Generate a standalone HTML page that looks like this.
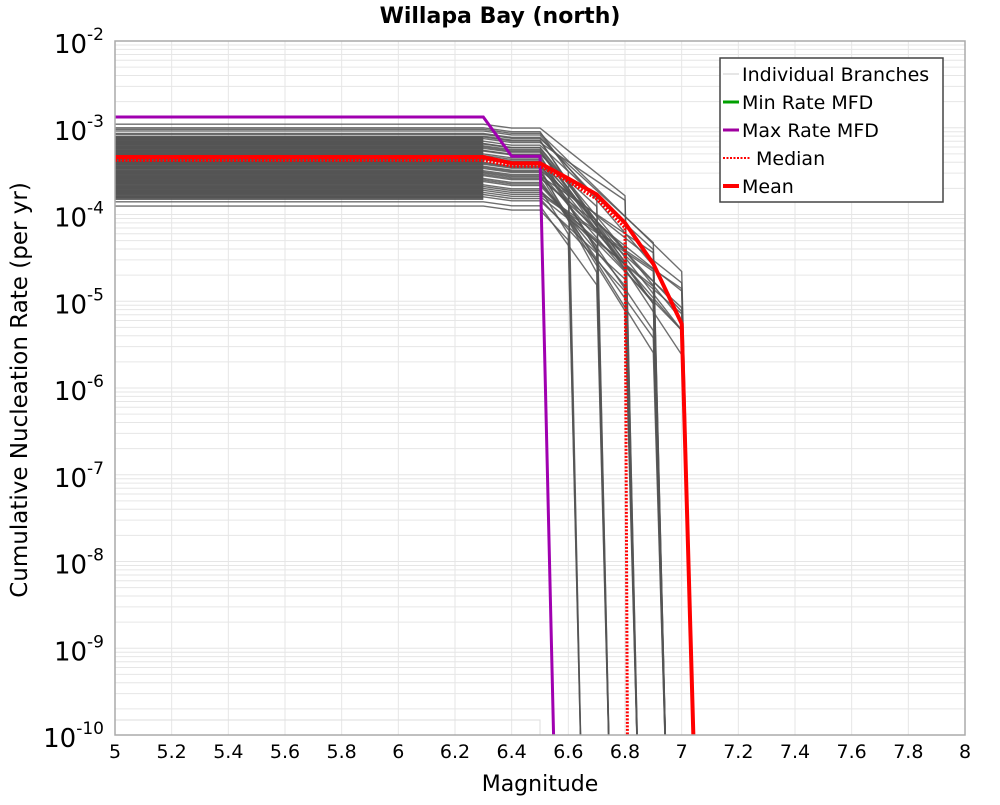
<!DOCTYPE html>
<html><head><meta charset="utf-8"><style>
body{margin:0;background:#fff;font-family:"Liberation Sans","DejaVu Sans",sans-serif;}
svg text{font-family:"DejaVu Sans","Liberation Sans",sans-serif;}
</style></head><body>
<svg id="chart" width="1000" height="800" xmlns="http://www.w3.org/2000/svg">
<defs><clipPath id="plotclip"><rect x="115" y="41" width="850" height="694"/></clipPath></defs>
<text x="500" y="23" text-anchor="middle" font-size="22" font-weight="bold">Willapa Bay (north)</text>
<g id="grid"></g>
<g id="series" clip-path="url(#plotclip)"></g>
<rect x="115" y="41" width="850" height="694" fill="none" stroke="#aaa" stroke-width="1.5"/>
<g id="axes"></g>
<text x="540" y="791" text-anchor="middle" font-size="22">Magnitude</text>
<text transform="translate(27,390) rotate(-90)" text-anchor="middle" font-size="23">Cumulative Nucleation Rate (per yr)</text>
<g>
<rect x="720" y="58" width="223" height="144" fill="#fff" stroke="#444" stroke-width="1.5"/>
<line x1="723" y1="74" x2="739" y2="74" stroke="#ccc" stroke-width="1"/>
<text x="742" y="81" font-size="19">Individual Branches</text>
<line x1="723" y1="102" x2="739" y2="102" stroke="#00a000" stroke-width="3"/>
<text x="742" y="109" font-size="19">Min Rate MFD</text>
<line x1="723" y1="130" x2="739" y2="130" stroke="#a000a0" stroke-width="3"/>
<text x="742" y="137" font-size="19">Max Rate MFD</text>
<line x1="723" y1="158" x2="751" y2="158" stroke="red" stroke-width="2" stroke-dasharray="2,1.5"/>
<text x="756" y="165" font-size="19">Median</text>
<line x1="723" y1="186" x2="739" y2="186" stroke="red" stroke-width="4"/>
<text x="742" y="193" font-size="19">Mean</text>
</g>
</svg>
<script>
const xTicks=[5,5.2,5.4,5.6,5.8,6,6.2,6.4,6.6,6.8,7,7.2,7.4,7.6,7.8,8];
const yDecades=[-2,-3,-4,-5,-6,-7,-8,-9,-10];
const mags=[5.0,6.3,6.4,6.5,6.6,6.7,6.8,6.9,7.0];
const meanRates=[4.6e-4,4.6e-4,3.9e-4,3.9e-4,2.6e-4,1.7e-4,8e-5,2.7e-5,5.5e-6];
const meanMmax=7.05;
const medianRates=[4.2e-4,4.2e-4,3.6e-4,3.6e-4,2.4e-4,1.5e-4,7e-5];
const medianMmax=6.81;
const maxRates=[1.33e-3,1.33e-3,4.7e-4,4.7e-4];
const maxMmax=6.555;
// individual branches: base rate, last magnitude before cutoff, decay per 0.1 M
const branchBase=[1.25e-4,1.4e-4,1.6e-4,1.8e-4,2.0e-4,2.2e-4,2.4e-4,2.6e-4,2.8e-4,3.0e-4,3.2e-4,3.4e-4,3.6e-4,3.8e-4,4.0e-4,4.3e-4,4.6e-4,5.0e-4,5.4e-4,5.8e-4,6.2e-4,6.6e-4,7.0e-4,7.5e-4,8.0e-4,8.6e-4,9.2e-4,1.0e-3,1.1e-3,2.5e-4,3.5e-4,4.5e-4,5.5e-4,6.5e-4,3.1e-4,2.1e-4,1.7e-4,7.8e-4,4.8e-4,2.9e-4,8.4e-4,6.0e-4,3.9e-4,1.9e-4,9.6e-4];
const branchMmax=[6.6,6.7,6.8,6.9,7.0,6.6,6.7,6.8,6.9,7.0,6.8,6.9,7.0,6.7,6.8,6.9,7.0,6.6,6.7,6.8,6.9,7.0,6.9,6.8,7.0,6.7,6.9,6.6,6.8,7.0,6.9,6.8,6.7,7.0,6.9,7.0,6.8,6.9,6.7,7.0,6.9,6.8,7.0,6.9,7.0];
const branchDecay=[0.45,0.35,0.5,0.55,0.6,0.3,0.45,0.4,0.35,0.5,0.3,0.42,0.55,0.25,0.48,0.33,0.45,0.4,0.28,0.38,0.36,0.4,0.5,0.6,0.32,0.45,0.42,0.35,0.55,0.46,0.3,0.4,0.5,0.38,0.6,0.52,0.44,0.34,0.3,0.55,0.5,0.35,0.42,0.6,0.48];

const X=m=>115+(m-5)/3*850;
const Y=r=>41+(-2-Math.log10(r))*694/8;
const NS='http://www.w3.org/2000/svg';
function mk(tag,attrs,parent){const e=document.createElementNS(NS,tag);for(const k in attrs)e.setAttribute(k,attrs[k]);parent.appendChild(e);return e;}
const grid=document.getElementById('grid'),axes=document.getElementById('axes'),series=document.getElementById('series');
for(const d of yDecades){for(let k=1;k<10;k++){const v=k*Math.pow(10,d);if(v>1e-2+1e-9)continue;const l=mk('line',{x1:115,x2:965,y1:Y(v),y2:Y(v),stroke:'#e6e6e6','stroke-width':1},grid);

}}
for(const t of xTicks){const l=mk('line',{x1:X(t),x2:X(t),y1:41,y2:735,stroke:'#e6e6e6','stroke-width':1},grid);


const tx=mk('text',{x:X(t),y:758,'text-anchor':'middle','font-size':19},axes);tx.textContent=String(t);

}
for(const d of yDecades){const tx=mk('text',{x:104,y:Y(Math.pow(10,d))+12,'text-anchor':'end','font-size':26},axes);


const a=document.createElementNS(NS,'tspan');a.textContent='10';tx.appendChild(a);
const b=document.createElementNS(NS,'tspan');b.setAttribute('dy','-13');b.setAttribute('font-size','17');b.textContent=String(d);tx.appendChild(b);}
const min=mk('path',{d:`M115,720 H540 V735`,fill:'none',stroke:'#ddd','stroke-width':1},series);



function curvePts(ms,rs,mmax){let p=ms.slice(0,rs.length).map((m,i)=>[X(m),Y(rs[i])]);p.push([X(mmax),Y(1e-11)]);return p.map((q,i)=>(i?'L':'M')+q[0].toFixed(1)+','+q[1].toFixed(1)).join(' ');}
// dense band
for(let r=1.5e-4;r<8e-4;r*=1.03){const p=mk('line',{x1:X(5),x2:X(6.3),y1:Y(r),y2:Y(r),stroke:'#555','stroke-width':1.3},series);

}
branchBase.forEach((b,i)=>{const mm=branchMmax[i],dc=branchDecay[i];const rs=[];
for(const m of mags){if(m>mm+1e-6)break;let r=b;if(m>=6.4)r=b*0.9;if(m>6.5)r=b*0.9*Math.pow(dc,Math.round((m-6.5)*10));rs.push(r);}
const p=mk('path',{d:curvePts(mags,rs,mm+0.05),fill:'none',stroke:'#555','stroke-width':1.4,'stroke-opacity':0.85},series);

});
let p=mk('path',{d:curvePts(mags,maxRates,maxMmax),fill:'none',stroke:'#a000b0','stroke-width':3},series);


p=mk('path',{d:curvePts(mags,medianRates,medianMmax),fill:'none',stroke:'red','stroke-width':3,'stroke-dasharray':'2,1.5'},series);


p=mk('path',{d:curvePts(mags,meanRates,meanMmax),fill:'none',stroke:'red','stroke-width':4},series);


</script>
</body></html>
